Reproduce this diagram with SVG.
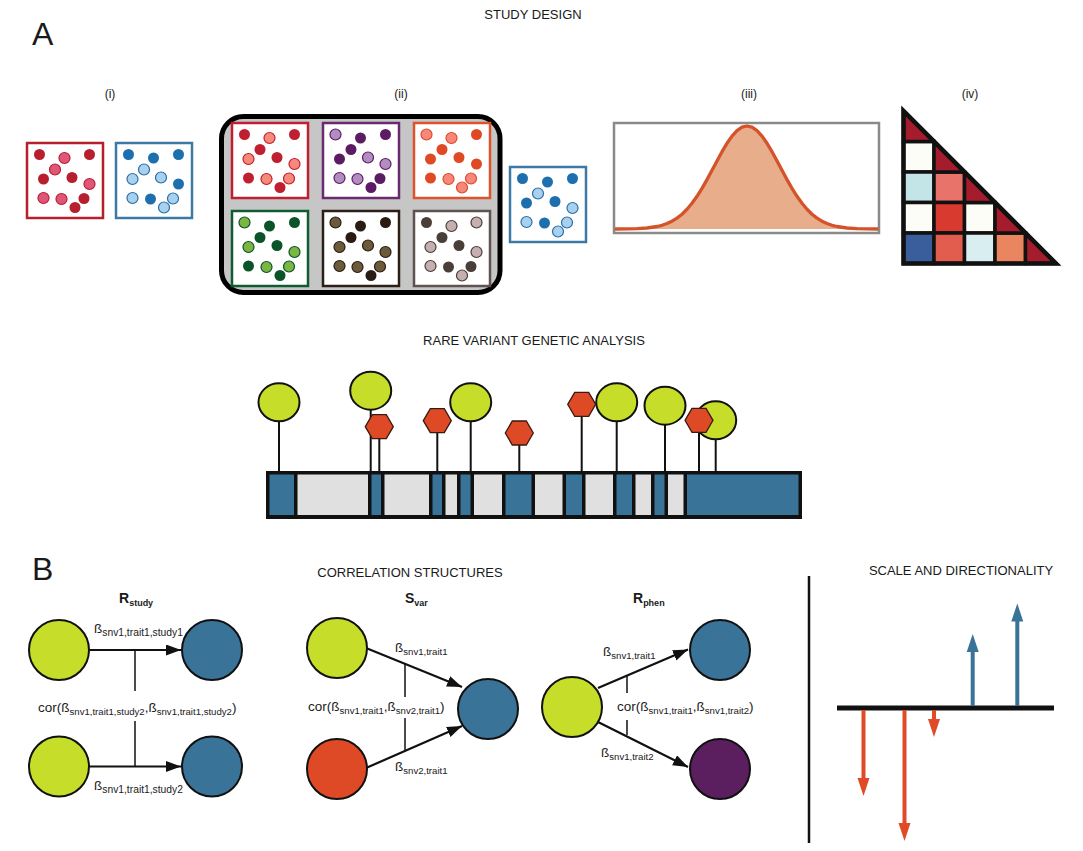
<svg xmlns="http://www.w3.org/2000/svg" width="1083" height="851" viewBox="0 0 1083 851">
<style>
text{font-family:"Liberation Sans",Arial,Helvetica,sans-serif;fill:#1a1a1a}
.hdr{font-size:13px;text-anchor:middle}
.lbl{font-size:12px;text-anchor:middle}
.big{font-size:32px}
.ttl{font-size:14px;font-weight:bold}
.ttl tspan{font-size:9px}
.el{font-size:13.5px}
.el tspan.s{font-size:9.6px}
.box rect{fill:#fff;stroke-width:2.5}
.box circle{stroke-width:1.2}
.box .k{stroke:none}
.rA rect{stroke:#b81f2c}.rA .k{fill:#b81f2c}.rA .l{fill:#e0567a;stroke:#b81f2c}
.bA rect{stroke:#3d79a5}.bA .k{fill:#1d6fae}.bA .l{fill:#a8d1ef;stroke:#2b6ea5}
.rB rect{stroke:#c01f2f}.rB .k{fill:#c01f2f}.rB .l{fill:#f58a7a;stroke:#c01f2f}
.pu rect{stroke:#6a2a70}.pu .k{fill:#5c1c63}.pu .l{fill:#b38cc1;stroke:#5c1c63}
.or rect{stroke:#e0522c}.or .k{fill:#df4a25}.or .l{fill:#f6877a;stroke:#df4a25}
.gr rect{stroke:#0e5c30}.gr .k{fill:#0b5428}.gr .l{fill:#7bb542;stroke:#0b5428}
.db rect{stroke:#2b1f18}.db .k{fill:#2a1c12}.db .l{fill:#6c5b3b;stroke:#2a1c12}
.gb rect{stroke:#5e5350}.gb .k{fill:#4a3e38}.gb .l{fill:#c5afb1;stroke:#4a3e38}
.seg-b{fill:#3a7398}.seg-g{fill:#e0e0e0}
.stem{stroke:#111;stroke-width:2}
.lol{fill:#c6dd29;stroke:#111;stroke-width:2}
.hex{fill:#df4a26;stroke:#3a1a10;stroke-width:1.3}
.node{stroke:#111;stroke-width:2}
.green{fill:#c6dd29}.blue{fill:#3a7398}.red{fill:#df4a26}.purple{fill:#5b1f5f}
.arr{stroke:#111;stroke-width:2.2;fill:none}
.cor{stroke:#111;stroke-width:1.5}
.cell{stroke:#111;stroke-width:3.5;stroke-linejoin:miter}
</style>
<defs>
<marker id="ah" markerWidth="16" markerHeight="12" refX="15" refY="5.5" orient="auto" markerUnits="userSpaceOnUse"><path d="M0,0 L15,5.5 L0,11 z" fill="#111"/></marker>
<polygon id="hexshape" points="-14,0 -7,-12 7,-12 14,0 7,12 -7,12"/>
</defs>

<!-- Headers -->
<text class="big" x="32" y="45">A</text>
<text class="hdr" x="533" y="19">STUDY DESIGN</text>
<text class="lbl" x="110" y="98">(i)</text>
<text class="lbl" x="401" y="98">(ii)</text>
<text class="lbl" x="749" y="98">(iii)</text>
<text class="lbl" x="970" y="98">(iv)</text>

<!-- (i) -->
<g id="box-i-red" class="box rA" transform="translate(27,143)">
<rect x="0" y="0" width="76" height="75"/>
<circle class="k" cx="12.5" cy="11.5" r="5.5"/><circle class="l" cx="37.5" cy="15" r="5.5"/><circle class="k" cx="62.5" cy="11.5" r="5.5"/><circle class="l" cx="28" cy="26.5" r="5.5"/><circle class="k" cx="16.5" cy="36" r="5.5"/><circle class="k" cx="45" cy="34.5" r="5.5"/><circle class="l" cx="62.5" cy="41" r="5.5"/><circle class="l" cx="16.5" cy="55" r="5.5"/><circle class="l" cx="34.5" cy="56" r="5.5"/><circle class="k" cx="57" cy="55.5" r="5.5"/><circle class="k" cx="48" cy="64.5" r="5.5"/>
</g>
<g id="box-i-blue" class="box bA" transform="translate(116,143)">
<rect x="0" y="0" width="76" height="75"/>
<circle class="k" cx="12.5" cy="11.5" r="5.5"/><circle class="k" cx="37.5" cy="15" r="5.5"/><circle class="k" cx="62.5" cy="11.5" r="5.5"/><circle class="l" cx="28" cy="26.5" r="5.5"/><circle class="l" cx="16.5" cy="36" r="5.5"/><circle class="l" cx="45" cy="34.5" r="5.5"/><circle class="k" cx="62.5" cy="41" r="5.5"/><circle class="l" cx="16.5" cy="55" r="5.5"/><circle class="k" cx="34.5" cy="56" r="5.5"/><circle class="l" cx="57" cy="55.5" r="5.5"/><circle class="l" cx="48" cy="64.5" r="5.5"/>
</g>

<!-- (ii) -->
<g id="panel-ii">
<rect x="221.5" y="116.5" width="278.5" height="176" rx="22" fill="#c6c6c6" stroke="#000" stroke-width="5"/>
<g id="box-ii-red" class="box rB" transform="translate(232,123)">
<rect x="0" y="0" width="76" height="75"/>
<circle class="k" cx="12.5" cy="11.5" r="5.5"/><circle class="l" cx="37.5" cy="15" r="5.5"/><circle class="k" cx="62.5" cy="11.5" r="5.5"/><circle class="k" cx="28" cy="26.5" r="5.5"/><circle class="l" cx="16.5" cy="36" r="5.5"/><circle class="k" cx="45" cy="34.5" r="5.5"/><circle class="l" cx="62.5" cy="41" r="5.5"/><circle class="k" cx="16.5" cy="55" r="5.5"/><circle class="l" cx="34.5" cy="56" r="5.5"/><circle class="l" cx="57" cy="55.5" r="5.5"/><circle class="k" cx="48" cy="64.5" r="5.5"/>
</g>
<g id="box-ii-purple" class="box pu" transform="translate(323,123)">
<rect x="0" y="0" width="76" height="75"/>
<circle class="l" cx="12.5" cy="11.5" r="5.5"/><circle class="k" cx="37.5" cy="15" r="5.5"/><circle class="k" cx="62.5" cy="11.5" r="5.5"/><circle class="k" cx="28" cy="26.5" r="5.5"/><circle class="k" cx="16.5" cy="36" r="5.5"/><circle class="l" cx="45" cy="34.5" r="5.5"/><circle class="l" cx="62.5" cy="41" r="5.5"/><circle class="l" cx="16.5" cy="55" r="5.5"/><circle class="l" cx="34.5" cy="56" r="5.5"/><circle class="k" cx="57" cy="55.5" r="5.5"/><circle class="k" cx="48" cy="64.5" r="5.5"/>
</g>
<g id="box-ii-orange" class="box or" transform="translate(414,123)">
<rect x="0" y="0" width="76" height="75"/>
<circle class="l" cx="12.5" cy="11.5" r="5.5"/><circle class="l" cx="37.5" cy="15" r="5.5"/><circle class="k" cx="62.5" cy="11.5" r="5.5"/><circle class="k" cx="28" cy="26.5" r="5.5"/><circle class="k" cx="16.5" cy="36" r="5.5"/><circle class="k" cx="45" cy="34.5" r="5.5"/><circle class="k" cx="62.5" cy="41" r="5.5"/><circle class="k" cx="16.5" cy="55" r="5.5"/><circle class="l" cx="34.5" cy="56" r="5.5"/><circle class="l" cx="57" cy="55.5" r="5.5"/><circle class="l" cx="48" cy="64.5" r="5.5"/>
</g>
<g id="box-ii-green" class="box gr" transform="translate(232,211)">
<rect x="0" y="0" width="76" height="75"/>
<circle class="l" cx="12.5" cy="11.5" r="5.5"/><circle class="k" cx="37.5" cy="15" r="5.5"/><circle class="k" cx="62.5" cy="11.5" r="5.5"/><circle class="k" cx="28" cy="26.5" r="5.5"/><circle class="l" cx="16.5" cy="36" r="5.5"/><circle class="k" cx="45" cy="34.5" r="5.5"/><circle class="l" cx="62.5" cy="41" r="5.5"/><circle class="k" cx="16.5" cy="55" r="5.5"/><circle class="l" cx="34.5" cy="56" r="5.5"/><circle class="l" cx="57" cy="55.5" r="5.5"/><circle class="k" cx="48" cy="64.5" r="5.5"/>
</g>
<g id="box-ii-darkbrown" class="box db" transform="translate(323,211)">
<rect x="0" y="0" width="76" height="75"/>
<circle class="l" cx="12.5" cy="11.5" r="5.5"/><circle class="k" cx="37.5" cy="15" r="5.5"/><circle class="k" cx="62.5" cy="11.5" r="5.5"/><circle class="k" cx="28" cy="26.5" r="5.5"/><circle class="l" cx="16.5" cy="36" r="5.5"/><circle class="l" cx="45" cy="34.5" r="5.5"/><circle class="l" cx="62.5" cy="41" r="5.5"/><circle class="l" cx="16.5" cy="55" r="5.5"/><circle class="l" cx="34.5" cy="56" r="5.5"/><circle class="l" cx="57" cy="55.5" r="5.5"/><circle class="k" cx="48" cy="64.5" r="5.5"/>
</g>
<g id="box-ii-greybrown" class="box gb" transform="translate(414,211)">
<rect x="0" y="0" width="76" height="75"/>
<circle class="k" cx="12.5" cy="11.5" r="5.5"/><circle class="l" cx="37.5" cy="15" r="5.5"/><circle class="l" cx="62.5" cy="11.5" r="5.5"/><circle class="k" cx="28" cy="26.5" r="5.5"/><circle class="l" cx="16.5" cy="36" r="5.5"/><circle class="k" cx="45" cy="34.5" r="5.5"/><circle class="l" cx="62.5" cy="41" r="5.5"/><circle class="l" cx="16.5" cy="55" r="5.5"/><circle class="k" cx="34.5" cy="56" r="5.5"/><circle class="k" cx="57" cy="55.5" r="5.5"/><circle class="l" cx="48" cy="64.5" r="5.5"/>
</g>
</g>
<g id="box-target" class="box bA" transform="translate(510,167)">
<rect x="0" y="0" width="76" height="75"/>
<circle class="k" cx="12.5" cy="11.5" r="5.5"/><circle class="k" cx="37.5" cy="15" r="5.5"/><circle class="k" cx="62.5" cy="11.5" r="5.5"/><circle class="l" cx="28" cy="26.5" r="5.5"/><circle class="k" cx="16.5" cy="36" r="5.5"/><circle class="k" cx="45" cy="34.5" r="5.5"/><circle class="l" cx="62.5" cy="41" r="5.5"/><circle class="l" cx="16.5" cy="55" r="5.5"/><circle class="k" cx="34.5" cy="56" r="5.5"/><circle class="l" cx="57" cy="55.5" r="5.5"/><circle class="l" cx="48" cy="64.5" r="5.5"/>
</g>

<!-- (iii) -->
<g id="panel-iii">
<rect x="614" y="123" width="265" height="110" fill="#fff" stroke="#8a8a8a" stroke-width="2.5"/>
<polygon fill="#e8ad8b" points="614,229 627,228.9 637,228.6 647,228 657,226.5 662,225.3 667,223.5 672,221.2 677,218.1 682,214.2 687,209.3 692,203.3 697,196.3 702,188.4 707,179.6 712,170.3 717,160.9 722,151.7 727,143.3 732,136.1 737,130.6 742,127.2 747,126 752,127.2 757,130.6 762,136.1 767,143.3 772,151.7 777,160.9 782,170.3 787,179.6 792,188.4 797,196.3 802,203.3 807,209.3 812,214.2 817,218.1 822,221.2 827,223.5 832,225.3 837,226.5 847,228 857,228.6 867,228.9 879,229"/>
<polyline fill="none" stroke="#d4532a" stroke-width="3.3" stroke-linejoin="round" points="615,229 627,228.9 637,228.6 647,228 657,226.5 662,225.3 667,223.5 672,221.2 677,218.1 682,214.2 687,209.3 692,203.3 697,196.3 702,188.4 707,179.6 712,170.3 717,160.9 722,151.7 727,143.3 732,136.1 737,130.6 742,127.2 747,126 752,127.2 757,130.6 762,136.1 767,143.3 772,151.7 777,160.9 782,170.3 787,179.6 792,188.4 797,196.3 802,203.3 807,209.3 812,214.2 817,218.1 822,221.2 827,223.5 832,225.3 837,226.5 847,228 857,228.6 867,228.9 878,229"/>
</g>

<!-- (iv) -->
<g id="panel-iv">
<rect class="cell" x="903.5" y="141.5" width="30.5" height="30.5" fill="#fdfdf7"/>
<rect class="cell" x="903.5" y="172" width="30.5" height="30.5" fill="#c4e5e8"/>
<rect class="cell" x="934" y="172" width="30.5" height="30.5" fill="#e8736a"/>
<rect class="cell" x="903.5" y="202.5" width="30.5" height="30.5" fill="#fdfdf7"/>
<rect class="cell" x="934" y="202.5" width="30.5" height="30.5" fill="#d83a2f"/>
<rect class="cell" x="964.5" y="202.5" width="30.5" height="30.5" fill="#fdfdf7"/>
<rect class="cell" x="903.5" y="233" width="30.5" height="30.5" fill="#3a5d9c"/>
<rect class="cell" x="934" y="233" width="30.5" height="30.5" fill="#e35d4e"/>
<rect class="cell" x="964.5" y="233" width="30.5" height="30.5" fill="#d9eef1"/>
<rect class="cell" x="995" y="233" width="30.5" height="30.5" fill="#e9855f"/>
<polygon class="cell" fill="#a51c2d" points="903.5,111 903.5,141.5 934,141.5"/>
<polygon class="cell" fill="#a51c2d" points="934,141.5 934,172 964.5,172"/>
<polygon class="cell" fill="#a51c2d" points="964.5,172 964.5,202.5 995,202.5"/>
<polygon class="cell" fill="#a51c2d" points="995,202.5 995,233 1025.5,233"/>
<polygon class="cell" fill="#a51c2d" points="1025.5,233 1025.5,263.5 1056,263.5"/>
<polygon fill="none" stroke="#111" stroke-width="4.5" stroke-linejoin="miter" points="903.5,111 903.5,263.5 1056,263.5"/>
</g>

<!-- Rare variant -->
<text class="hdr" x="534" y="345">RARE VARIANT GENETIC ANALYSIS</text>
<g id="gene-bar">
<rect x="266" y="471" width="536" height="48" fill="#111"/>
<rect class="seg-b" x="269.5" y="474.5" width="24.5" height="40.5"/>
<rect class="seg-g" x="297.5" y="474.5" width="70.5" height="40.5"/>
<rect class="seg-b" x="371.5" y="474.5" width="9.5" height="40.5"/>
<rect class="seg-g" x="384.5" y="474.5" width="44.5" height="40.5"/>
<rect class="seg-b" x="432.5" y="474.5" width="9.5" height="40.5"/>
<rect class="seg-g" x="445.5" y="474.5" width="11.5" height="40.5"/>
<rect class="seg-b" x="460.5" y="474.5" width="10" height="40.5"/>
<rect class="seg-g" x="474" y="474.5" width="28" height="40.5"/>
<rect class="seg-b" x="505.5" y="474.5" width="26" height="40.5"/>
<rect class="seg-g" x="535" y="474.5" width="27.5" height="40.5"/>
<rect class="seg-b" x="566" y="474.5" width="16" height="40.5"/>
<rect class="seg-g" x="585.5" y="474.5" width="27.5" height="40.5"/>
<rect class="seg-b" x="616.5" y="474.5" width="15.5" height="40.5"/>
<rect class="seg-g" x="635.5" y="474.5" width="15.5" height="40.5"/>
<rect class="seg-b" x="654.5" y="474.5" width="10" height="40.5"/>
<rect class="seg-g" x="668" y="474.5" width="15.5" height="40.5"/>
<rect class="seg-b" x="687" y="474.5" width="111.5" height="40.5"/>
</g>
<g id="variants">
<line class="stem" x1="279" y1="402" x2="279" y2="471"/>
<line class="stem" x1="370.7" y1="391" x2="370.7" y2="471"/>
<line class="stem" x1="379.3" y1="427" x2="379.3" y2="471"/>
<line class="stem" x1="437.3" y1="421" x2="437.3" y2="471"/>
<line class="stem" x1="470.7" y1="402" x2="470.7" y2="471"/>
<line class="stem" x1="519.3" y1="433" x2="519.3" y2="471"/>
<line class="stem" x1="581.7" y1="404" x2="581.7" y2="471"/>
<line class="stem" x1="616.7" y1="402" x2="616.7" y2="471"/>
<line class="stem" x1="665" y1="406" x2="665" y2="471"/>
<line class="stem" x1="699" y1="420" x2="699" y2="471"/>
<line class="stem" x1="715.7" y1="420" x2="715.7" y2="471"/>
<ellipse class="lol" cx="279" cy="402.3" rx="20.5" ry="19"/>
<ellipse class="lol" cx="370.7" cy="390.7" rx="20.5" ry="19"/>
<ellipse class="lol" cx="470.7" cy="402.3" rx="20.5" ry="19"/>
<ellipse class="lol" cx="616.7" cy="402.3" rx="20.5" ry="19"/>
<ellipse class="lol" cx="665" cy="405.7" rx="20.5" ry="19"/>
<ellipse class="lol" cx="715.7" cy="420.3" rx="20.5" ry="19"/>
<use href="#hexshape" class="hex" x="379.3" y="426.7"/>
<use href="#hexshape" class="hex" x="437.3" y="420.7"/>
<use href="#hexshape" class="hex" x="519.3" y="433"/>
<use href="#hexshape" class="hex" x="581.7" y="404.3"/>
<use href="#hexshape" class="hex" x="699" y="420.3"/>
</g>

<!-- Panel B -->
<text class="big" x="32" y="580">B</text>
<text class="hdr" x="410" y="577">CORRELATION STRUCTURES</text>
<text class="hdr" x="961" y="575">SCALE AND DIRECTIONALITY</text>

<text class="ttl" x="119" y="603">R<tspan dy="2.5">study</tspan></text>
<text class="ttl" x="405" y="603">S<tspan dy="2.5">var</tspan></text>
<text class="ttl" x="633" y="603">R<tspan dy="2.5">phen</tspan></text>

<g id="connectors">
<line class="arr" x1="89" y1="650" x2="181" y2="650" marker-end="url(#ah)"/>
<line class="arr" x1="89" y1="766.5" x2="181" y2="766.5" marker-end="url(#ah)"/>
<line class="cor" x1="135" y1="650" x2="135" y2="691"/>
<line class="cor" x1="135" y1="721" x2="135" y2="766.5"/>
<line class="arr" x1="366" y1="648" x2="462" y2="687" marker-end="url(#ah)"/>
<line class="arr" x1="366" y1="768" x2="462" y2="726" marker-end="url(#ah)"/>
<line class="cor" x1="405" y1="664" x2="405" y2="697"/>
<line class="cor" x1="405" y1="718" x2="405" y2="750"/>
<line class="arr" x1="598" y1="688" x2="688" y2="649.5" marker-end="url(#ah)"/>
<line class="arr" x1="598" y1="722" x2="688" y2="767" marker-end="url(#ah)"/>
<line class="cor" x1="627" y1="676" x2="627" y2="693"/>
<line class="cor" x1="627" y1="720" x2="627" y2="735"/>
</g>

<g id="rstudy-snv1-study1"><circle class="node green" cx="59" cy="650" r="30"/></g>
<g id="rstudy-trait-study1"><circle class="node blue" cx="212" cy="650" r="30"/></g>
<g id="rstudy-snv1-study2"><circle class="node green" cx="59" cy="766.5" r="30"/></g>
<g id="rstudy-trait-study2"><circle class="node blue" cx="212" cy="766.5" r="30"/></g>
<g id="svar-snv1"><circle class="node green" cx="337" cy="648" r="30"/></g>
<g id="svar-snv2"><circle class="node red" cx="337" cy="769" r="30"/></g>
<g id="svar-trait1"><circle class="node blue" cx="488" cy="709" r="30"/></g>
<g id="rphen-snv1"><circle class="node green" cx="572" cy="707" r="30"/></g>
<g id="rphen-trait1"><circle class="node blue" cx="720" cy="650" r="30"/></g>
<g id="rphen-trait2"><circle class="node purple" cx="720" cy="769" r="30"/></g>

<g id="edge-labels">
<text class="el" x="94" y="633">ß<tspan class="s" dy="3" style="font-size:10.3px">snv1,trait1,study1</tspan></text>
<text class="el" x="38" y="712">cor(ß<tspan class="s" dy="3">snv1,trait1,study2</tspan><tspan dy="-3">,ß</tspan><tspan class="s" dy="3">snv1,trait1,study2</tspan><tspan dy="-3">)</tspan></text>
<text class="el" x="94" y="790">ß<tspan class="s" dy="3" style="font-size:10.3px">snv1,trait1,study2</tspan></text>
<text class="el" x="395" y="652">ß<tspan class="s" dy="3">snv1,trait1</tspan></text>
<text class="el" x="308" y="711">cor(ß<tspan class="s" dy="3">snv1,trait1</tspan><tspan dy="-3">,ß</tspan><tspan class="s" dy="3">snv2,trait1</tspan><tspan dy="-3">)</tspan></text>
<text class="el" x="395" y="771">ß<tspan class="s" dy="3">snv2,trait1</tspan></text>
<text class="el" x="603" y="656">ß<tspan class="s" dy="3">snv1,trait1</tspan></text>
<text class="el" x="617" y="711">cor(ß<tspan class="s" dy="3">snv1,trait1</tspan><tspan dy="-3">,ß</tspan><tspan class="s" dy="3">snv1,trait2</tspan><tspan dy="-3">)</tspan></text>
<text class="el" x="601" y="757">ß<tspan class="s" dy="3">snv1,trait2</tspan></text>
</g>

<!-- Scale and directionality -->
<g id="scale">
<line x1="809" y1="576" x2="809" y2="843" stroke="#111" stroke-width="2.5"/>
<line x1="837" y1="708" x2="1054" y2="708" stroke="#111" stroke-width="5"/>
<g fill="#e04a26" stroke="#e04a26">
<line x1="863.5" y1="710" x2="863.5" y2="780" stroke-width="4"/>
<polygon stroke="none" points="857.5,778 869.5,778 863.5,796"/>
<line x1="904.5" y1="710" x2="904.5" y2="825" stroke-width="4"/>
<polygon stroke="none" points="898.5,823 910.5,823 904.5,841"/>
<line x1="934" y1="710" x2="934" y2="721" stroke-width="4"/>
<polygon stroke="none" points="928,719 940,719 934,737"/>
</g>
<g fill="#3a7398" stroke="#3a7398">
<line x1="972.7" y1="706" x2="972.7" y2="650" stroke-width="4"/>
<polygon stroke="none" points="966.7,652 978.7,652 972.7,634"/>
<line x1="1017.3" y1="706" x2="1017.3" y2="620" stroke-width="4"/>
<polygon stroke="none" points="1011.3,621.5 1023.3,621.5 1017.3,603.5"/>
</g>
</g>
</svg>
